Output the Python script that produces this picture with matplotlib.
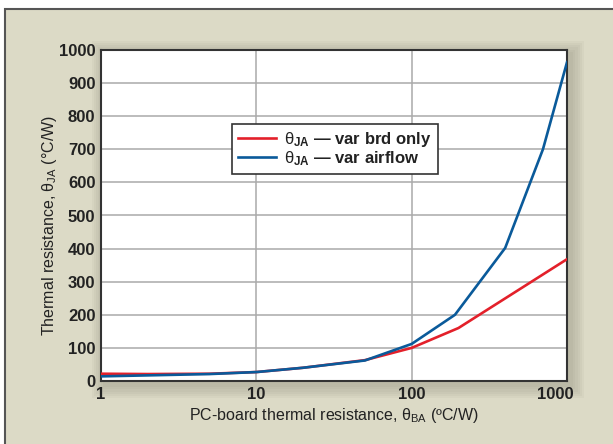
import matplotlib
matplotlib.use("Agg")
import matplotlib.pyplot as plt
from matplotlib.patches import Rectangle
import matplotlib.transforms as mtransforms

plt.rcParams['font.family'] = ['Liberation Sans', 'DejaVu Sans']
plt.rcParams['mathtext.fontset'] = 'custom'
plt.rcParams['mathtext.rm'] = 'Liberation Sans'
plt.rcParams['mathtext.it'] = 'Liberation Sans'
plt.rcParams['mathtext.bf'] = 'Liberation Sans:bold'

# Data
red_x = [1, 2, 5, 10, 20, 50, 100, 200, 1000]
red_y = [22, 21, 22, 27, 40, 63, 100, 160, 368]
blue_x = [1, 2, 5, 10, 20, 50, 100, 190, 400, 700, 1000]
blue_y = [14, 17, 21, 27, 40, 62, 112, 200, 402, 700, 963]
x_ticks = [1, 10, 100, 1000]
y_ticks = [0, 100, 200, 300, 400, 500, 600, 700, 800, 900, 1000]
red_label = r'$\theta_{\mathbf{JA}}$ — var brd only'
blue_label = r'$\theta_{\mathbf{JA}}$ — var airflow'
xlabel = r'PC-board thermal resistance, $\theta_{\rm BA}$ (ºC/W)'
ylabel = r'Thermal resistance, $\theta_{\rm JA}$ (°C/W)'

W, H = 613, 444
fig = plt.figure(figsize=(W / 100, H / 100), dpi=100, facecolor='white')

# beige panel with border on top/left
panel = Rectangle((5 / W, -0.05), 1.1, (H - 9) / H + 0.05, transform=fig.transFigure,
                  facecolor='#dcdac6', edgecolor='#555555', linewidth=1.5, zorder=-3)
fig.patches.append(panel)

ax_l, ax_r, ax_t, ax_b = 101, 567, 50, 381
ax = fig.add_axes([ax_l / W, 1 - ax_b / H, (ax_r - ax_l) / W, (ax_b - ax_t) / H])
ax.set_zorder(1)

# soft shadow behind axes
for i in range(6):
    d = (i + 1) * 2.2
    fig.patches.append(Rectangle(((ax_l - d + 4) / W, (H - ax_b - d - 4) / H),
                                 (ax_r - ax_l + 2 * d) / W, (ax_b - ax_t + 2 * d) / H,
                                 transform=fig.transFigure, facecolor='#6b6a5c',
                                 edgecolor='none', alpha=0.05, zorder=-2))

ax.set_facecolor('white')
ax.set_xscale('log')
ax.set_xlim(1, 1000)
ax.set_ylim(0, 1000)
ax.set_xticks(x_ticks)
ax.set_xticklabels([str(v) for v in x_ticks])
ax.minorticks_off()
ax.set_yticks(y_ticks)
ax.set_yticklabels([str(v) for v in y_ticks])
ax.tick_params(length=0, labelsize=12, colors='#222222', pad=4)
for lab in ax.get_xticklabels() + ax.get_yticklabels():
    lab.set_fontweight('bold')
ax.grid(True, color='#aaaaaa', linewidth=1.1)
ax.set_axisbelow(True)
for s in ax.spines.values():
    s.set_color('#333333')
    s.set_linewidth(1.5)

# shift last x tick label left
lbls = ax.get_xticklabels()
off = mtransforms.ScaledTranslation(-12 / 100, 0, fig.dpi_scale_trans)
lbls[-1].set_transform(lbls[-1].get_transform() + off)

ax.plot(red_x, red_y, color='#e3202a', lw=1.9, label=red_label, zorder=3)
ax.plot(blue_x, blue_y, color='#0a5a9a', lw=1.9, label=blue_label, zorder=3)

ax.set_xlabel(xlabel, fontsize=11.5, color='#222222')
ax.set_ylabel(ylabel, fontsize=11.5, color='#222222')
ax.xaxis.set_label_coords(0.5, -0.075)
ax.yaxis.set_label_coords(-0.09, 0.47)

leg = ax.legend(loc='upper left', bbox_to_anchor=(0.281, 0.776), fontsize=12,
                frameon=True, fancybox=False, shadow=False, handlelength=2.3,
                handletextpad=0.5, borderpad=0.35, labelspacing=0.0, borderaxespad=0)
leg.get_frame().set_edgecolor('#333333')
leg.get_frame().set_linewidth(1.2)
leg.get_frame().set_facecolor('white')
leg.get_frame().set_alpha(1)
for t in leg.get_texts():
    t.set_color('#222222')
    t.set_fontweight('bold')

fig.savefig('out.png', dpi=100, facecolor='white')
